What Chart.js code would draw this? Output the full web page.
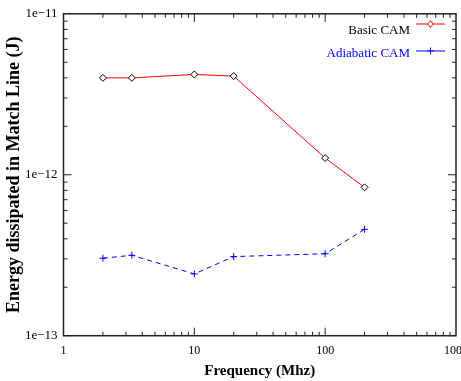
<!DOCTYPE html>
<html>
<head>
<meta charset="utf-8">
<script src="https://cdn.jsdelivr.net/npm/chart.js@4"></script>
<style>
  html, body { margin: 0; padding: 0; background: #fff; }
  #wrap { width: 461px; height: 381px; }
</style>
</head>
<body>
<div id="wrap"><canvas id="chart" width="461" height="381"></canvas></div>
<script>
// data
const freqs = [2, 3.33, 10, 20, 100, 200];
const basicCam = [4.0e-12, 4.0e-12, 4.2e-12, 4.1e-12, 1.27e-12, 8.35e-13];
const adiabaticCam = [3.03e-13, 3.16e-13, 2.42e-13, 3.1e-13, 3.23e-13, 4.58e-13];
const xTicks = [1, 10, 100, 1000];
const xTickLabels = ['1', '10', '100', '1000'];
const yTicks = [1e-13, 1e-12, 1e-11];
const yTickLabels = ['1e\u221213', '1e\u221212', '1e\u221211'];

const SERIF = '"Liberation Serif", "Times New Roman", serif';
Chart.defaults.font.family = SERIF;
Chart.defaults.color = '#000';

// inward ticks on all four sides + box frame
const frame = {
  id: 'frame',
  beforeDatasetsDraw(chart) {
    const { ctx, chartArea: a, scales: { x, y } } = chart;
    ctx.save();
    ctx.strokeStyle = '#222';
    ctx.lineWidth = 1;
    ctx.beginPath();
    for (let e = 0; e < 3; e++) {
      for (let d = 1; d < 10; d++) {
        const px = x.getPixelForValue(d * Math.pow(10, e));
        const len = d === 1 ? 8 : 4;
        ctx.moveTo(px, a.bottom); ctx.lineTo(px, a.bottom - len);
        ctx.moveTo(px, a.top); ctx.lineTo(px, a.top + len);
      }
    }
    for (let e = -13; e < -11; e++) {
      for (let d = 1; d < 10; d++) {
        const py = y.getPixelForValue(d * Math.pow(10, e));
        const len = d === 1 ? 8 : 4;
        ctx.moveTo(a.left, py); ctx.lineTo(a.left + len, py);
        ctx.moveTo(a.right, py); ctx.lineTo(a.right - len, py);
      }
    }
    ctx.stroke();
    ctx.lineWidth = 1.5;
    ctx.strokeRect(a.left, a.top, a.right - a.left, a.bottom - a.top);
    ctx.restore();
  }
};

// gnuplot style key, top right inside the plot
const key = {
  id: 'key',
  afterDraw(chart) {
    const { ctx, chartArea: a } = chart;
    const textColors = ['#000', '#0000ff'];
    const rows = [{ line: 24, text: 33.5 }, { line: 51, text: 56.5 }];
    ctx.save();
    ctx.font = '13px ' + SERIF;
    ctx.textAlign = 'right';
    ctx.textBaseline = 'alphabetic';
    chart.data.datasets.forEach((ds, i) => {
      const r = rows[i];
      ctx.fillStyle = textColors[i];
      ctx.fillText(ds.label, a.right - 46, r.text);
      const x0 = a.right - 40, x1 = a.right - 11, mx = (x0 + x1) / 2;
      ctx.strokeStyle = ds.borderColor;
      ctx.lineWidth = 1;
      ctx.beginPath();
      ctx.moveTo(x0, r.line); ctx.lineTo(x1, r.line);
      ctx.stroke();
      ctx.beginPath();
      if (ds.pointStyle === 'rectRot') {
        const rr = ds.pointRadius;
        ctx.moveTo(mx, r.line - rr); ctx.lineTo(mx + rr * 0.8, r.line);
        ctx.lineTo(mx, r.line + rr); ctx.lineTo(mx - rr * 0.8, r.line);
        ctx.closePath();
        ctx.fillStyle = '#fff';
        ctx.fill();
      } else {
        const rr = ds.pointRadius;
        ctx.moveTo(mx - rr, r.line); ctx.lineTo(mx + rr, r.line);
        ctx.moveTo(mx, r.line - rr); ctx.lineTo(mx, r.line + rr);
      }
      ctx.stroke();
    });
    ctx.restore();
  }
};

new Chart(document.getElementById('chart'), {
  type: 'line',
  data: {
    datasets: [
      {
        label: 'Basic CAM',
        data: freqs.map((f, i) => ({ x: f, y: basicCam[i] })),
        borderColor: '#ff0000',
        borderWidth: 1,
        pointStyle: 'rectRot',
        pointRadius: 3.5,
        pointBorderColor: '#000',
        pointBackgroundColor: '#fff',
        pointBorderWidth: 1,
        fill: false,
        tension: 0
      },
      {
        label: 'Adiabatic CAM',
        data: freqs.map((f, i) => ({ x: f, y: adiabaticCam[i] })),
        borderColor: '#0000ff',
        borderWidth: 1,
        borderDash: [5, 4],
        pointStyle: 'cross',
        pointRadius: 3.5,
        pointBorderColor: '#0000ff',
        pointBorderWidth: 1,
        fill: false,
        tension: 0
      }
    ]
  },
  options: {
    responsive: false,
    animation: false,
    devicePixelRatio: 1,
    layout: { padding: { left: 4, right: 3, top: 10, bottom: 1 } },
    plugins: { legend: { display: false }, tooltip: { enabled: false } },
    scales: {
      x: {
        type: 'logarithmic',
        min: 1,
        max: 1000,
        grid: { display: false, drawTicks: false },
        border: { display: false },
        afterBuildTicks: s => { s.ticks = xTicks.map(v => ({ value: v })); },
        afterFit: s => { s.height = 44.3; s.paddingLeft = 0; s.paddingRight = 0; },
        ticks: {
          autoSkip: false,
          maxRotation: 0,
          padding: 8,
          font: { size: 12 },
          callback: (v, i) => xTickLabels[i]
        },
        title: {
          display: true,
          text: 'Frequency (Mhz)',
          font: { size: 15, weight: 'bold' },
          padding: { top: 0, bottom: 0 }
        }
      },
      y: {
        type: 'logarithmic',
        min: 1e-13,
        max: 1e-11,
        grid: { display: false, drawTicks: false },
        border: { display: false },
        afterBuildTicks: s => { s.ticks = yTicks.map(v => ({ value: v })); },
        afterFit: s => { s.width = 59.5; },
        ticks: {
          autoSkip: false,
          padding: 6,
          font: { size: 13 },
          callback: (v, i) => yTickLabels[i]
        },
        title: {
          display: true,
          text: 'Energy dissipated in Match Line (J)',
          font: { size: 18, weight: 'bold' },
          padding: { top: 0, bottom: 0 }
        }
      }
    }
  },
  plugins: [frame, key]
});
</script>
</body>
</html>
